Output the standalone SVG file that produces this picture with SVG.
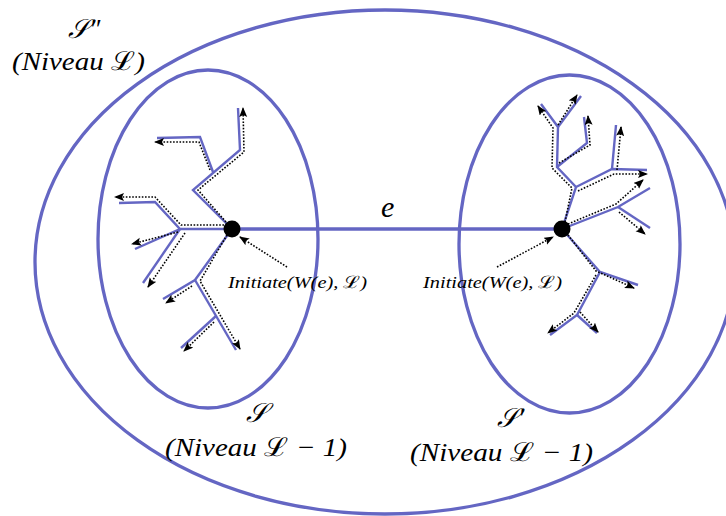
<svg xmlns="http://www.w3.org/2000/svg" width="726" height="516" viewBox="0 0 726 516">
<style>
.ell{fill:none;stroke:#6466c3;stroke-width:3.3}
.tree{fill:none;stroke:#6466c3;stroke-width:2.4;stroke-linejoin:miter}
.dot{fill:none;stroke:#000;stroke-width:1.6;stroke-dasharray:1.6 1.6;marker-end:url(#ah)}
.v{fill:#000}
text{font-family:'Liberation Serif','DejaVu Serif',serif;font-style:italic;fill:#000}
.m{font-family:'DejaVu Serif',serif;font-style:normal}
</style>
<defs>
<marker id="ah" markerUnits="userSpaceOnUse" markerWidth="11" markerHeight="9" refX="9" refY="4" orient="auto">
<path d="M0,0 L10,4 L0,8 L2,4 z" fill="#000"/>
</marker>
</defs>
<g id="S2">
<ellipse class="ell" cx="385" cy="262" rx="350" ry="252"/>
<text x="68" y="38" font-size="27">𝒮″</text>
<text x="12" y="70" font-size="26" textLength="133" lengthAdjust="spacingAndGlyphs">(Niveau <tspan class="m">ℒ</tspan>)</text>
</g>
<g id="S">
<ellipse class="ell" cx="208" cy="239" rx="110" ry="169"/>
<text x="246" y="422" font-size="27">𝒮</text>
<text x="165" y="456" font-size="26" textLength="182" lengthAdjust="spacingAndGlyphs">(Niveau <tspan class="m">ℒ</tspan> − 1)</text>
</g>
<g id="S1">
<ellipse class="ell" cx="569.5" cy="244" rx="110.5" ry="169"/>
<text x="497" y="427" font-size="27">𝒮′</text>
<text x="410" y="461" font-size="26" textLength="183" lengthAdjust="spacingAndGlyphs">(Niveau <tspan class="m">ℒ</tspan> − 1)</text>
</g>
<g id="connectors">
<line x1="232" y1="229" x2="562" y2="229" stroke="#6466c3" stroke-width="3.3"/>
<text x="381" y="217" font-size="30">e</text>
<g id="treeLeft">
<path class="tree" d="M232,229 L180,229 L155,202 L119,203"/>
<path class="tree" d="M180,229 L135,249"/>
<path class="tree" d="M180,229 L143,283"/>
<path class="tree" d="M232,229 L193,190 L240,150 L238,108"/>
<path class="tree" d="M213,172 L200,137 L157,138"/>
<path class="tree" d="M232,229 L195,280 L163,299"/>
<path class="tree" d="M195,280 L236,350"/>
<path class="tree" d="M216,316 L181,348"/>
<path class="dot" d="M224,225 L181,225 L155,197 L115,197"/>
<path class="dot" d="M178,232 L132,244"/>
<path class="dot" d="M185,233 L148,287"/>
<path class="dot" d="M226,222 L198,190 L244,152 L243,108"/>
<path class="dot" d="M210,170 L199,142 L155,142"/>
<path class="dot" d="M227,235 L200,281 L240,349"/>
<path class="dot" d="M192,286 L166,303"/>
<path class="dot" d="M214,322 L184,351"/>
</g>
<g id="treeRight">
<path class="tree" d="M562,229 L576,187 L612,169 L647,170"/>
<path class="tree" d="M612,169 L616,125"/>
<path class="tree" d="M576,187 L557,167 L558,127 L541,104"/>
<path class="tree" d="M558,127 L581,96"/>
<path class="tree" d="M557,167 L587,143 L584,117"/>
<path class="tree" d="M562,229 L618,207 L650,188"/>
<path class="tree" d="M618,207 L650,228"/>
<path class="tree" d="M562,229 L600,272 L638,285"/>
<path class="tree" d="M600,272 L577,315 L550,335"/>
<path class="tree" d="M577,315 L597,333"/>
<path class="dot" d="M565,222 L572,188 L552,168 L553,128 L538,106"/>
<path class="dot" d="M558,125 L577,95"/>
<path class="dot" d="M559,163 L590,145 L588,116"/>
<path class="dot" d="M578,191 L614,174 L647,174"/>
<path class="dot" d="M617,170 L621,127"/>
<path class="dot" d="M568,224 L616,204 L643,180"/>
<path class="dot" d="M619,212 L645,234"/>
<path class="dot" d="M568,235 L596,271 L634,288"/>
<path class="dot" d="M596,275 L574,313 L548,333"/>
<path class="dot" d="M580,312 L598,332"/>
</g>
<path class="dot" d="M287,267 L240,237"/>
<path class="dot" d="M497,267 L553,237"/>
</g>
<g id="u">
<circle class="v" cx="232" cy="229" r="8.5"/>
<text x="228" y="288" font-size="17" textLength="139" lengthAdjust="spacingAndGlyphs">Initiate(W(e), <tspan class="m">ℒ</tspan>)</text>
</g>
<g id="v">
<circle class="v" cx="562" cy="229" r="8.5"/>
<text x="423" y="288" font-size="17" textLength="139" lengthAdjust="spacingAndGlyphs">Initiate(W(e), <tspan class="m">ℒ</tspan>)</text>
</g>
</svg>
